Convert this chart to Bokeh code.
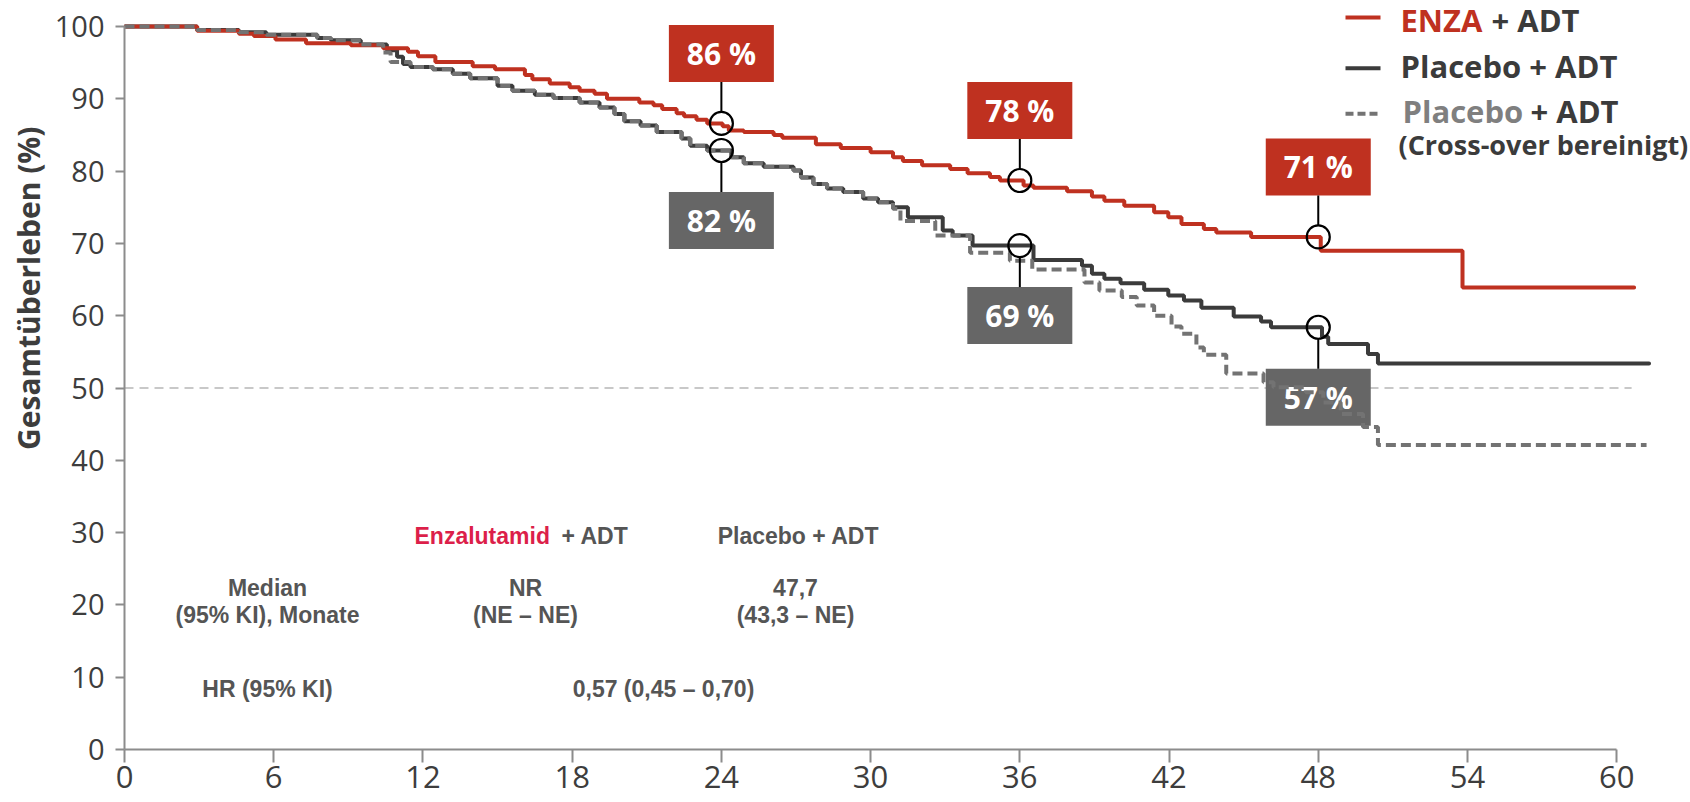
import math
from bokeh.plotting import figure
from bokeh.models import Range1d, Label, FixedTicker, Title
from bokeh.core.properties import value
from bokeh.embed import file_html
from bokeh.resources import INLINE

# ---------------- data ----------------
enza_t = [0, 2.92, 4.6, 5.2, 6.07, 7.3, 9.1, 10.4, 11.4, 11.8, 12.5, 14.0, 14.9, 16.1, 16.4,
          17.1, 17.9, 18.3, 18.9, 19.4, 20.7, 21.27, 21.62, 22.2, 22.5, 23.0, 23.43, 24.05,
          24.3, 24.9, 26.1, 26.45, 27.8, 28.8, 30.0, 30.9, 31.3, 32.07, 33.2, 33.9, 34.8,
          35.2, 36.15, 36.55, 37.9, 38.9, 39.4, 40.2, 41.4, 41.97, 42.5, 43.4, 43.9, 45.3,
          48.1, 53.8]
enza_s = [100, 99.4, 99.0, 98.7, 98.2, 97.7, 97.4, 97.0, 96.5, 95.9, 95.1, 94.5, 94.1, 93.3, 92.7,
          92.1, 91.6, 91.1, 90.7, 90.0, 89.5, 89.1, 88.6, 88.0, 87.6, 87.1, 86.6, 86.2,
          85.6, 85.4, 85.0, 84.6, 83.7, 83.2, 82.6, 81.9, 81.4, 80.8, 80.3, 79.7, 79.2,
          78.7, 78.0, 77.7, 77.2, 76.5, 75.9, 75.2, 74.3, 73.6, 72.7, 72.0, 71.5, 70.9,
          69.0, 63.9]
enza_end = 60.7

placebo_t = [0, 2.92, 4.6, 5.7, 7.75, 8.3, 9.5, 10.55, 10.96, 11.2, 11.5, 12.4, 13.2, 13.9,
             15.0, 15.6, 16.5, 17.25, 18.3, 19.1, 19.7, 20.1, 20.75, 21.4, 22.4, 22.75, 23.43,
             24.4, 24.9, 25.7, 26.9, 27.2, 27.7, 28.25, 28.9, 29.7, 30.3, 30.9, 31.5, 32.9,
             33.3, 34.1, 36.55, 38.5, 38.9, 39.4, 40.05, 41.0, 41.97, 42.6, 43.3, 44.6, 45.7,
             46.1, 48.15, 48.4, 50.0, 50.4]
placebo_s = [100, 99.5, 99.2, 98.85, 98.4, 98.1, 97.5, 96.7, 95.8, 94.8, 94.4, 94.1, 93.45, 92.85,
             91.8, 91.1, 90.55, 90.1, 89.5, 88.8, 87.9, 86.9, 86.3, 85.4, 84.5, 83.5, 82.85,
             81.9, 81.1, 80.6, 80.1, 79.1, 78.2, 77.6, 77.1, 76.2, 75.7, 75.0, 73.6, 71.8,
             71.1, 69.7, 67.7, 66.9, 65.8, 65.1, 64.5, 63.6, 62.8, 62.1, 61.1, 59.9, 59.2,
             58.4, 57.1, 56.1, 54.7, 53.4]
placebo_end = 61.3

adjusted_t = [0, 2.92, 4.6, 5.7, 7.75, 8.3, 9.5, 10.4, 10.7, 11.5, 12.4, 13.2, 13.9, 15.0,
              15.6, 16.5, 17.25, 18.3, 19.1, 19.7, 20.1, 20.75, 21.4, 22.4, 22.75, 23.43, 24.4,
              24.9, 25.7, 26.9, 27.2, 27.7, 28.25, 28.9, 29.7, 30.3, 30.9, 31.2, 32.6, 34.0,
              35.6, 36.5, 38.6, 39.2, 40.1, 40.7, 41.4, 42.1, 42.5, 43.1, 43.4, 44.3, 45.8,
              46.2, 47.5, 48.2, 48.9, 49.8, 50.4]
adjusted_s = [100, 99.5, 99.2, 98.85, 98.4, 98.1, 97.5, 96.4, 95.1, 94.4, 94.1, 93.45, 92.85, 91.8,
              91.1, 90.55, 90.1, 89.5, 88.8, 87.9, 86.9, 86.3, 85.4, 84.5, 83.5, 82.85, 81.9,
              81.1, 80.6, 80.1, 79.1, 78.2, 77.6, 77.1, 76.2, 75.7, 74.8, 73.1, 71.1, 68.7,
              67.6, 66.4, 64.6, 63.5, 62.6, 61.4, 60.0, 58.5, 57.5, 55.6, 54.6, 52.0, 50.8,
              50.1, 49.4, 48.0, 46.4, 44.6, 42.1]
adjusted_end = 61.2

landmark_months = [24, 36, 48]
enza_landmark_text = ["86 %", "78 %", "71 %"]
placebo_landmark_text = ["82 %", "69 %", "57 %"]

median_level = 50
median_line_end = 60.6

x_ticks = [0, 6, 12, 18, 24, 30, 36, 42, 48, 54, 60]
y_ticks = [0, 10, 20, 30, 40, 50, 60, 70, 80, 90, 100]
y_title = "Gesamtüberleben (%)"

legend_rows = [("ENZA", "+ ADT"), ("Placebo + ADT", ""), ("Placebo", "+ ADT")]
legend_note = "(Cross-over bereinigt)"

table_head = ["Enzalutamid", "+ ADT", "Placebo + ADT"]
table_median = ["Median", "(95% KI), Monate", "NR", "(NE – NE)", "47,7", "(43,3 – NE)"]
table_hr = ["HR (95% KI)", "0,57 (0,45 – 0,70)"]

# ---------------- styling / geometry ----------------
RED = "#BF3120"
DARK = "#3b3b3b"
GREY = "#737373"
BOX_GREY = "#666666"
AXIS_C = "#8c8c8c"
TXT = "#3d3d3d"
TABLE_C = "#555555"
TABLE_RED = "#DC1F4A"

W, H = 1690, 802
LEFT, BOTTOM = 124, 53
PX_MONTH = 24.87          # pixels per month
PX_PCT = 7.23             # pixels per percent
X_END = (W - LEFT) / PX_MONTH
Y_END = (H - BOTTOM) / PX_PCT

# picture pixel -> data helpers (used only to place annotations)
def fx(px):
    return (px - LEFT) / PX_MONTH

def fy(py):
    return (H - BOTTOM - py) / PX_PCT

p = figure(width=W, height=H, output_backend="svg", toolbar_location=None,
           x_range=Range1d(0, X_END), y_range=Range1d(0, Y_END),
           min_border_left=LEFT, min_border_right=0, min_border_top=0,
           min_border_bottom=BOTTOM)
p.outline_line_color = None
p.grid.visible = False

for ax in (p.xaxis[0], p.yaxis[0]):
    ax.axis_line_color = AXIS_C
    ax.axis_line_width = 2
    ax.major_tick_line_color = AXIS_C
    ax.major_tick_line_width = 2
    ax.minor_tick_line_color = None
    ax.major_tick_in = 0
    ax.major_label_text_font = "Open Sans"
    ax.major_label_text_color = TXT

p.xaxis.ticker = FixedTicker(ticks=x_ticks)
p.xaxis.bounds = (x_ticks[0], x_ticks[-1])
p.xaxis.major_tick_out = 13
p.xaxis.major_label_text_font_size = "31px"
p.xaxis.major_label_standoff = 3

p.yaxis.ticker = FixedTicker(ticks=y_ticks)
p.yaxis.bounds = (y_ticks[0], y_ticks[-1])
p.yaxis.major_tick_out = 9
p.yaxis.major_label_text_font_size = "29px"
p.yaxis.major_label_standoff = 11

# y-axis title (its top end sits at ~126 px in the reference)
p.add_layout(Title(text=y_title, align="right", offset=126, standoff=6,
                   text_font="Open Sans", text_font_style="bold",
                   text_font_size="30px", text_color=TXT), "left")

# median reference line
p.line([0, median_line_end], [median_level, median_level], line_color="#c8c8c8",
       line_width=2, line_dash="9 6")

def at(t, s, month):
    v = s[0]
    for ti, si in zip(t, s):
        if ti <= month:
            v = si
    return v

BOX_W, BOX_H = 105, 57
OFFSET = 70 / PX_PCT
R = 11.5 / PX_PCT
HALF_BOX = (BOX_H / 2) / PX_PCT

marks = []
for m, te, tp in zip(landmark_months, enza_landmark_text, placebo_landmark_text):
    marks.append((m, at(enza_t, enza_s, m), te, RED, +1))
    marks.append((m, at(placebo_t, placebo_s, m), tp, BOX_GREY, -1))

# boxes first: the curves run over them in the reference
for month, level, text, color, d in marks:
    by = level + d * OFFSET
    p.rect([month], [by], width=BOX_W, height=BOX_H, width_units="screen",
           height_units="screen", fill_color=color, line_color=None)
    p.text([month], [by], text=[text], text_align="center", text_baseline="middle",
           text_font=value("Open Sans"), text_font_style="bold", text_font_size="30px",
           text_color="white")

def stepped(t, s, end):
    return list(t) + [end], list(s) + [s[-1]]

xs, ys = stepped(placebo_t, placebo_s, placebo_end)
p.step(xs, ys, mode="after", line_color=DARK, line_width=4, line_cap="round")
xs, ys = stepped(enza_t, enza_s, enza_end)
p.step(xs, ys, mode="after", line_color=RED, line_width=4, line_cap="round")
xs, ys = stepped(adjusted_t, adjusted_s, adjusted_end)
p.step(xs, ys, mode="after", line_color=GREY, line_width=4, line_dash="10 5")

for month, level, text, color, d in marks:
    by = level + d * OFFSET
    p.segment([month], [level + d * R], [month], [by - d * HALF_BOX],
              line_color="black", line_width=2)
    p.scatter([month], [level], marker="circle", size=23, fill_alpha=0,
              line_color="black", line_width=2.2)

# legend (drawn by hand)
leg_y = [17, 67.7, 113.3]
p.segment([fx(1345)] * 2, [fy(leg_y[0]), fy(leg_y[1])], [fx(1380)] * 2,
          [fy(leg_y[0]), fy(leg_y[1])], line_color=[RED, DARK], line_width=4)
p.segment([fx(1345)], [fy(leg_y[2])], [fx(1380)], [fy(leg_y[2])], line_color=GREY,
          line_width=4, line_dash="8 4")

def lab(px, py, text, color, size="31px", style="bold", font="Open Sans",
        align="left", baseline="alphabetic"):
    p.add_layout(Label(x=fx(px), y=fy(py), text=text, text_color=color,
                       text_font=font, text_font_style=style, text_font_size=size,
                       text_align=align, text_baseline=baseline))

lab(1400, 19.5, legend_rows[0][0], RED)
lab(1491, 19.5, legend_rows[0][1], DARK)
lab(1400, 65, legend_rows[1][0], DARK)
lab(1402, 110.5, legend_rows[2][0], "#7f7f7f")
lab(1530, 110.5, legend_rows[2][1], DARK)
lab(1398, 144, legend_note, DARK, size="27px")

# summary table inside the plot
TF = "Liberation Sans"
TS = "23px"
lab(414, 535, table_head[0], TABLE_RED, size=TS, font=TF, baseline="middle")
lab(561, 535, table_head[1], TABLE_C, size=TS, font=TF, baseline="middle")
lab(798, 535, table_head[2], TABLE_C, size=TS, font=TF, align="center", baseline="middle")
lab(267, 587, table_median[0], TABLE_C, size=TS, font=TF, align="center", baseline="middle")
lab(267, 614, table_median[1], TABLE_C, size=TS, font=TF, align="center", baseline="middle")
lab(525, 587, table_median[2], TABLE_C, size=TS, font=TF, align="center", baseline="middle")
lab(525, 614, table_median[3], TABLE_C, size=TS, font=TF, align="center", baseline="middle")
lab(795, 587, table_median[4], TABLE_C, size=TS, font=TF, align="center", baseline="middle")
lab(795, 614, table_median[5], TABLE_C, size=TS, font=TF, align="center", baseline="middle")
lab(267, 688, table_hr[0], TABLE_C, size=TS, font=TF, align="center", baseline="middle")
lab(663, 688, table_hr[1], TABLE_C, size=TS, font=TF, align="center", baseline="middle")

open("out.html", "w").write(file_html(p, INLINE))
